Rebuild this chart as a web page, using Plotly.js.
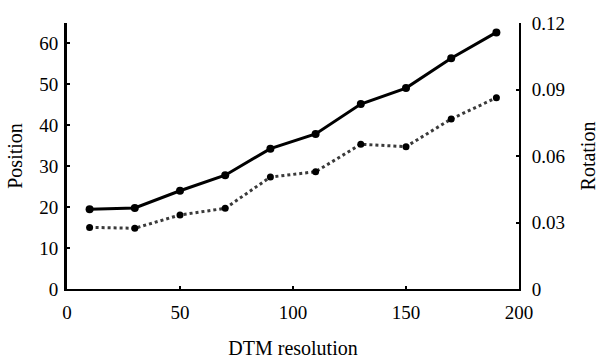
<!DOCTYPE html>
<html>
<head>
<meta charset="utf-8">
<script src="https://cdn.plot.ly/plotly-3.0.1.min.js"></script>
<style>
  html, body { margin: 0; padding: 0; background: #ffffff; }
  #chart { width: 599px; height: 359px; }
</style>
</head>
<body>
<div id="chart"></div>
<script>
// DTM resolution (x) and the two error measures
const resolution = [10, 30, 50, 70, 90, 110, 130, 150, 170, 190];
const position = [19.5, 19.8, 24.0, 27.8, 34.3, 37.9, 45.2, 49.1, 56.4, 62.7];
const rotation = [0.0278, 0.0274, 0.0334, 0.0364, 0.0505, 0.0529, 0.0653, 0.0642, 0.0767, 0.0863];

const leftTicks = [0, 10, 20, 30, 40, 50, 60];
const rightTicks = [0, 0.03, 0.06, 0.09, 0.12];
const rightTickText = ['0', '0.03', '0.06', '0.09', '0.12'];
const xTicks = [0, 50, 100, 150, 200];

const serif = 'Liberation Serif, Times New Roman, serif';
const titleFont = { family: serif, size: 20, color: '#000000' };

const traces = [
  {
    x: resolution, y: position, name: 'Position', yaxis: 'y',
    type: 'scatter', mode: 'lines+markers',
    line: { color: '#000000', width: 3 },
    marker: { color: '#000000', size: 8, symbol: 'circle' }
  },
  {
    x: resolution, y: rotation, name: 'Rotation', yaxis: 'y2',
    type: 'scatter', mode: 'lines+markers',
    line: { color: '#3a3a3a', width: 3, dash: 'dot' },
    marker: { color: '#000000', size: 7, symbol: 'circle' }
  }
];

const axisCommon = {
  showgrid: false, zeroline: false,
  showline: true, linecolor: '#000000', linewidth: 2,
  ticks: 'inside', ticklen: 3, tickwidth: 2, tickcolor: '#000000',
  tickfont: { family: serif, size: 19, color: '#000000' }
};

const layout = {
  width: 599, height: 359,
  margin: { l: 67, r: 80, t: 23, b: 70, pad: 0 },
  paper_bgcolor: '#ffffff', plot_bgcolor: '#ffffff',
  showlegend: false,
  font: { family: serif, size: 19, color: '#000000' },
  xaxis: Object.assign({}, axisCommon, {
    range: [0, 200], tickvals: xTicks, ticklabelstandoff: 5,
    title: { text: 'DTM resolution', font: titleFont, standoff: 20 }
  }),
  yaxis: Object.assign({}, axisCommon, {
    range: [0, 65], tickvals: leftTicks, linewidth: 3, ticklabelstandoff: 2,
    title: { text: 'Position', font: titleFont, standoff: 12 }
  }),
  yaxis2: Object.assign({}, axisCommon, {
    overlaying: 'y', side: 'right', anchor: 'x',
    range: [0, 0.12], tickvals: rightTicks, ticktext: rightTickText, ticklabelstandoff: 7,
    title: { text: 'Rotation', font: titleFont, standoff: 18 }
  })
};

Plotly.newPlot('chart', traces, layout, { displayModeBar: false, staticPlot: true });
</script>
</body>
</html>
